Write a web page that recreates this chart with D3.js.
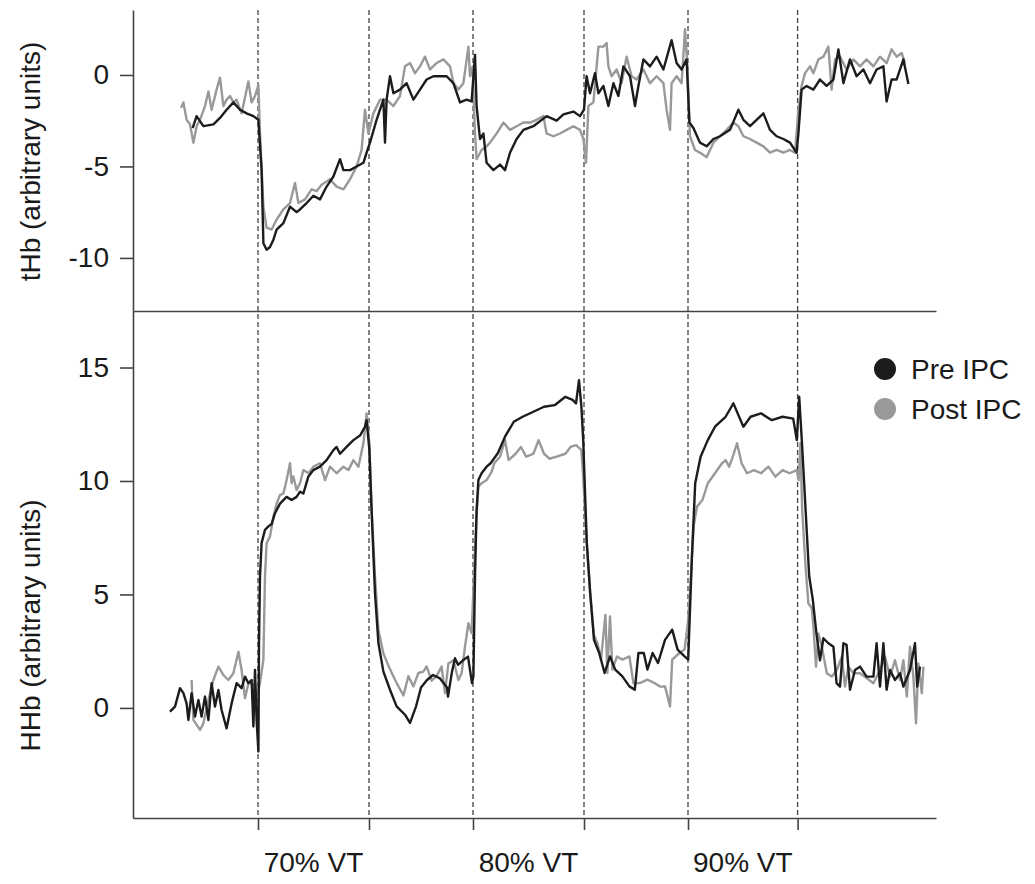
<!DOCTYPE html>
<html>
<head>
<meta charset="utf-8">
<script src="https://cdn.jsdelivr.net/npm/d3@7"></script>
<style>
  body { margin: 0; background: #fff; }
  svg { display: block; font-family: "Liberation Sans", Arial, sans-serif; }
</style>
</head>
<body>
<div id="chart"></div>
<script>
// time (min) of each workload change
const eventTimes = [6.25, 11.8, 17.0, 22.55, 27.75, 33.23];
const stageLabels = ["70% VT", "80% VT", "90% VT"];
const tHbTicks = [-10, -5, 0];
const hhbTicks = [0, 5, 10, 15];
const seriesNames = ["Pre IPC", "Post IPC"];

// tHb traces [time, value]
const tHbPre = [
  [2.98,-2.9],[3.18,-2.25],[3.52,-2.8],[4.02,-2.7],[4.35,-2.35],[4.68,-1.9],[5.02,-1.5],[5.35,-1.9],[5.68,-2.1],[6.02,-2.25],
  [6.27,-2.45],[6.43,-5.2],[6.52,-9.2],[6.68,-9.55],[6.85,-9.4],[7.02,-9.0],[7.18,-8.45],[7.52,-8.1],[7.85,-7.2],[8.18,-7.5],
  [8.35,-7.35],[8.68,-7.0],[9.02,-6.6],[9.35,-6.8],[9.68,-6.1],[10.02,-5.55],[10.35,-4.6],[10.52,-5.2],[10.85,-5.2],[11.18,-5.0],
  [11.52,-4.8],[11.68,-4.25],[11.85,-3.7],[12.18,-2.45],[12.52,-1.35],[12.6,-3.7],[12.68,-1.35],[12.85,-0.07],[13.02,-1.0],[13.35,-0.8],
  [13.68,-0.45],[14.02,-1.35],[14.35,-0.8],[14.68,-0.25],[15.02,-0.07],[15.35,-0.07],[15.68,-0.07],[16.02,-0.45],[16.35,-1.5],[16.68,-1.35],
  [16.93,-1.45],[17.1,1.1],[17.18,-1.7],[17.35,-3.5],[17.52,-3.2],[17.68,-4.8],[18.02,-5.2],[18.35,-4.9],[18.6,-5.2],[18.85,-4.25],
  [19.18,-3.5],[19.52,-3.0],[20.02,-2.8],[20.68,-2.25],[21.18,-2.5],[21.52,-2.15],[22.02,-2.0],[22.35,-2.25],[22.55,-1.9],[22.68,-0.07],
  [22.85,-1.0],[23.1,0.1],[23.27,-1.0],[23.52,-0.6],[23.77,-1.7],[24.02,-0.45],[24.27,-1.15],[24.52,0.47],[24.85,-0.07],[25.1,-1.7],
  [25.27,-0.6],[25.52,0.85],[25.85,0.47],[26.18,1.0],[26.52,0.3],[26.93,1.9],[27.18,0.65],[27.43,0.3],[27.68,0.85],[27.82,-2.6],
  [28.02,-2.9],[28.35,-3.7],[28.68,-3.9],[29.02,-3.5],[29.35,-3.35],[29.85,-3.0],[30.27,-1.9],[30.52,-2.45],[30.85,-2.8],[31.18,-2.45],
  [31.52,-2.1],[31.85,-3.0],[32.18,-3.35],[32.52,-3.5],[32.85,-3.7],[33.18,-4.25],[33.27,-3.2],[33.43,-0.8],[33.68,-0.6],[34.02,-0.8],
  [34.35,-0.25],[34.68,-0.6],[35.02,-0.25],[35.27,1.4],[35.52,-0.45],[35.85,0.85],[36.18,-0.07],[36.52,0.3],[36.85,-0.45],[37.18,0.3],
  [37.52,0.47],[37.68,-1.45],[37.93,-0.25],[38.18,-0.25],[38.52,0.85],[38.77,-0.5]
];
const tHbPost = [
  [2.4,-1.8],[2.52,-1.5],[2.68,-2.45],[2.85,-2.7],[3.02,-3.7],[3.18,-2.8],[3.35,-2.45],[3.6,-1.7],[3.77,-0.9],[3.93,-1.9],
  [4.18,-0.8],[4.35,-0.15],[4.52,-1.7],[4.68,-1.35],[4.85,-1.15],[5.02,-1.5],[5.18,-1.35],[5.43,-2.1],[5.77,-0.35],[5.93,-1.5],
  [6.1,-1.15],[6.27,-0.55],[6.35,-3.2],[6.52,-7.2],[6.68,-8.35],[6.93,-8.45],[7.18,-7.9],[7.52,-7.35],[7.85,-7.0],[8.1,-5.9],
  [8.27,-7.0],[8.6,-6.8],[8.93,-6.25],[9.18,-6.35],[9.43,-6.0],[9.85,-5.7],[10.18,-6.1],[10.52,-6.25],[10.85,-5.7],[11.18,-5.0],
  [11.43,-4.1],[11.6,-1.9],[11.77,-3.2],[12.02,-2.1],[12.35,-1.35],[12.68,-1.35],[13.02,-1.7],[13.35,-1.15],[13.6,0.47],[13.85,0.65],
  [14.1,0.1],[14.35,0.47],[14.6,1.0],[14.85,0.3],[15.18,0.65],[15.52,0.85],[15.85,0.47],[16.02,-0.45],[16.27,-0.8],[16.52,-0.45],
  [16.77,1.55],[16.85,-0.07],[16.98,0.47],[17.1,-3.2],[17.18,-4.6],[17.43,-4.1],[17.68,-3.9],[17.85,-3.7],[18.18,-3.2],[18.52,-2.6],
  [18.85,-3.0],[19.18,-2.8],[19.52,-2.6],[19.85,-2.6],[20.18,-2.45],[20.52,-2.25],[20.68,-3.2],[21.02,-3.35],[21.35,-3.2],[21.68,-3.0],
  [22.02,-2.8],[22.35,-3.0],[22.52,-3.5],[22.65,-4.8],[22.77,-1.7],[23.02,-1.5],[23.27,1.55],[23.52,1.55],[23.68,1.75],[23.77,0.47],
  [23.93,-0.07],[24.18,0.3],[24.43,-0.45],[24.68,1.0],[24.93,-0.07],[25.18,-0.25],[25.52,0.3],[25.85,-0.45],[26.18,-0.07],[26.52,-0.45],
  [26.68,-1.9],[26.85,-3.0],[26.93,-0.45],[27.18,-0.07],[27.43,-0.45],[27.6,2.5],[27.72,0.47],[27.85,-3.35],[28.1,-4.1],[28.43,-4.3],
  [28.68,-4.5],[29.02,-3.7],[29.35,-3.35],[29.68,-3.0],[30.02,-2.6],[30.27,-2.8],[30.52,-3.35],[30.85,-3.5],[31.18,-3.7],[31.52,-3.9],
  [31.85,-4.25],[32.18,-4.1],[32.52,-4.25],[32.85,-4.1],[33.1,-4.25],[33.27,-1.9],[33.43,-0.6],[33.6,0.1],[33.85,0.47],[34.02,0.1],
  [34.27,0.85],[34.52,1.0],[34.77,1.55],[34.93,-0.8],[35.1,0.85],[35.35,1.0],[35.68,0.3],[36.02,0.85],[36.35,0.47],[36.68,0.85],
  [37.02,0.47],[37.35,1.0],[37.68,0.65],[37.93,1.4],[38.18,1.0],[38.43,1.2],[38.6,0.65]
];

// HHb traces [time, value]
const hhbPre = [
  [1.85,-0.16],[2.1,0.06],[2.35,0.87],[2.52,0.65],[2.68,0.2],[2.77,-0.53],[2.93,0.65],[3.1,-0.38],[3.27,0.35],[3.43,-0.38],
  [3.6,0.5],[3.77,-0.53],[3.93,1.09],[4.1,0.06],[4.27,0.79],[4.43,-0.09],[4.68,-0.9],[4.93,0.2],[5.18,1.09],[5.43,0.87],
  [5.6,1.38],[5.77,1.09],[5.93,1.23],[6.02,-0.82],[6.1,1.67],[6.18,-0.53],[6.27,-1.92],[6.3,2.86],[6.35,5.8],[6.43,7.26],
  [6.6,7.85],[6.77,8.0],[6.93,8.1],[7.1,8.58],[7.35,9.0],[7.68,9.3],[7.93,9.16],[8.18,9.3],[8.35,9.53],[8.52,9.45],
  [8.77,10.2],[9.02,10.48],[9.35,10.63],[9.68,10.92],[10.02,11.36],[10.18,11.5],[10.35,11.2],[10.68,11.5],[11.02,11.8],[11.35,12.0],
  [11.6,12.39],[11.68,12.68],[11.82,11.36],[11.93,8.72],[12.1,5.06],[12.27,2.86],[12.52,1.6],[12.85,0.8],[13.18,0.07],[13.6,-0.3],
  [13.85,-0.66],[14.15,0.06],[14.4,0.9],[14.7,1.23],[15.0,1.45],[15.35,1.3],[15.7,0.9],[15.75,0.5],[15.95,1.6],[16.1,2.19],
  [16.25,1.9],[16.5,2.1],[16.75,2.26],[16.95,1.09],[17.02,1.39],[17.1,5.8],[17.18,8.72],[17.27,10.04],[17.43,10.34],[17.68,10.63],
  [17.88,10.78],[18.24,11.22],[18.6,11.95],[19.04,12.61],[19.48,12.83],[20.02,13.05],[20.55,13.27],[21.08,13.34],[21.62,13.71],[21.98,13.57],
  [22.15,13.42],[22.3,14.44],[22.42,13.27],[22.51,11.8],[22.69,7.26],[22.86,5.06],[23.05,3.0],[23.31,2.42],[23.58,1.54],[23.85,2.27],
  [24.11,1.69],[24.47,1.39],[24.82,0.95],[25.09,0.8],[25.27,2.42],[25.54,2.42],[25.72,1.69],[25.98,2.42],[26.25,1.98],[26.6,3.0],
  [26.96,3.45],[27.23,2.57],[27.58,2.27],[27.76,2.13],[27.94,6.52],[28.11,9.9],[28.38,11.07],[28.74,11.8],[29.1,12.39],[29.63,12.83],
  [30.02,13.42],[30.52,12.39],[30.88,12.83],[31.4,12.98],[31.94,12.68],[32.48,12.83],[33.01,12.75],[33.19,11.8],[33.31,13.71],[33.45,11.65],
  [33.63,8.72],[33.81,5.8],[33.99,4.77],[34.17,3.3],[34.35,2.1],[34.52,3.07],[34.77,2.85],[35.02,2.7],[35.18,1.09],[35.35,0.94],
  [35.52,2.85],[35.68,2.78],[35.85,0.8],[36.1,1.67],[36.35,1.82],[36.68,1.38],[37.02,1.38],[37.18,2.85],[37.35,0.94],[37.52,2.85],
  [37.68,0.8],[37.85,1.67],[38.1,1.23],[38.35,1.53],[38.52,0.94],[38.85,1.67],[39.1,2.85],[39.21,0.94],[39.35,1.82]
];
const hhbPost = [
  [2.93,1.23],[3.02,-0.53],[3.35,-0.97],[3.52,-0.68],[3.77,0.35],[4.02,1.23],[4.27,1.82],[4.52,1.45],[4.77,1.23],[5.02,1.53],
  [5.27,2.48],[5.43,1.67],[5.6,0.43],[5.77,1.09],[5.93,1.09],[6.1,0.94],[6.18,0.5],[6.35,1.09],[6.52,2.13],[6.6,5.8],
  [6.68,7.26],[6.85,7.55],[7.02,8.43],[7.18,9.0],[7.35,9.38],[7.52,9.45],[7.68,10.04],[7.85,10.78],[7.93,9.9],[8.02,10.2],
  [8.18,9.6],[8.35,9.9],[8.52,10.48],[8.77,10.34],[9.02,10.63],[9.35,10.78],[9.6,10.04],[9.85,10.63],[10.18,10.34],[10.52,10.63],
  [10.77,10.48],[11.02,10.92],[11.27,10.63],[11.52,11.66],[11.68,12.98],[11.82,11.66],[11.93,8.72],[12.1,5.8],[12.27,3.45],[12.52,2.4],
  [12.85,1.7],[13.18,1.1],[13.52,0.55],[13.77,1.4],[14.02,0.95],[14.27,1.54],[14.52,1.6],[14.68,1.83],[14.93,1.2],[15.18,1.4],
  [15.43,1.82],[15.6,0.65],[15.77,1.96],[16.02,2.1],[16.27,1.23],[16.43,1.53],[16.6,2.7],[16.77,3.73],[16.93,3.3],[17.05,5.8],
  [17.15,8.0],[17.27,9.75],[17.43,9.9],[17.68,10.04],[17.93,10.4],[18.06,10.78],[18.35,11.07],[18.6,11.8],[18.78,10.92],[19.13,11.2],
  [19.4,11.5],[19.66,11.07],[20.02,11.2],[20.28,11.8],[20.55,11.2],[20.82,10.98],[21.18,11.07],[21.62,11.2],[21.88,11.5],[22.16,11.58],
  [22.42,11.36],[22.51,10.19],[22.69,7.26],[22.86,5.06],[23.05,3.2],[23.22,2.86],[23.4,2.13],[23.62,4.1],[23.72,1.54],[23.85,4.03],
  [23.97,1.69],[24.2,2.27],[24.47,2.13],[24.82,2.27],[25.02,1.09],[25.35,1.1],[25.72,1.25],[26.07,1.1],[26.35,0.94],[26.6,0.95],
  [26.85,0.06],[26.96,2.13],[27.32,2.42],[27.58,2.57],[27.76,3.89],[27.85,5.06],[28.03,8.0],[28.2,8.87],[28.47,9.16],[28.74,9.9],
  [29.1,10.34],[29.45,10.78],[29.63,10.92],[29.81,10.63],[29.99,11.07],[30.2,11.66],[30.43,10.78],[30.7,10.34],[31.05,10.48],[31.4,10.34],
  [31.77,10.63],[32.12,10.19],[32.48,10.48],[32.83,10.34],[33.19,10.48],[33.28,10.04],[33.37,11.66],[33.46,8.72],[33.63,6.2],[33.77,4.6],
  [33.94,4.4],[34.02,3.58],[34.15,1.82],[34.27,3.28],[34.44,2.7],[34.69,1.53],[34.94,1.38],[35.19,1.67],[35.44,2.26],[35.6,0.94],
  [35.77,1.82],[36.02,1.53],[36.35,1.53],[36.69,1.31],[37.02,1.09],[37.35,1.67],[37.6,2.26],[37.85,1.38],[38.1,2.1],[38.35,1.23],
  [38.52,2.1],[38.69,0.5],[38.85,2.7],[39.02,1.38],[39.15,-0.68],[39.27,1.96],[39.44,0.65],[39.52,1.82]
];

const W = 1035, H = 884;
const left = 133, right = 936;
const topY = 10, midY = 311, botY = 818;

const colors = ["#1c1c1c", "#999999"];
const textColor = "#1a1a1a";

const svg = d3.select("#chart").append("svg")
    .attr("width", W).attr("height", H);

const x = d3.scaleLinear().domain([0, 40.15]).range([left, right]);
const yTop = d3.scaleLinear().domain([-12.9, 3.55]).range([midY, topY]);
const yBot = d3.scaleLinear().domain([-4.85, 17.49]).range([botY, midY]);

// vertical dashed markers at workload changes
svg.append("g").selectAll("line")
    .data(eventTimes)
    .enter().append("line")
    .attr("x1", d => x(d)).attr("x2", d => x(d))
    .attr("y1", topY).attr("y2", botY)
    .attr("stroke", "#444").attr("stroke-width", 1.3)
    .attr("stroke-dasharray", "5,3");

// traces (post drawn first, pre on top)
function drawLines(y, pre, post) {
    const line = d3.line().x(d => x(d[0])).y(d => y(d[1]));
    [post, pre].forEach((s, i) => {
        svg.append("path")
            .datum(s)
            .attr("d", line)
            .attr("fill", "none")
            .attr("stroke", i === 0 ? colors[1] : colors[0])
            .attr("stroke-width", 2.4)
            .attr("stroke-linejoin", "round");
    });
}
drawLines(yTop, tHbPre, tHbPost);
drawLines(yBot, hhbPre, hhbPost);

// axes
function styleAxis(g) {
    g.selectAll("path, line").attr("stroke", "#444").attr("stroke-width", 1.6);
    g.selectAll("text").attr("fill", textColor).style("font-size", "28px")
        .style("font-family", "'Liberation Sans', Arial, sans-serif");
}

svg.append("g")
    .attr("transform", `translate(${left},0)`)
    .call(d3.axisLeft(yTop).tickValues(tHbTicks).tickFormat(d => String(d))
        .tickSize(13).tickPadding(11).tickSizeOuter(0))
    .call(styleAxis);

svg.append("g")
    .attr("transform", `translate(${left},0)`)
    .call(d3.axisLeft(yBot).tickValues(hhbTicks).tickFormat(d => String(d))
        .tickSize(13).tickPadding(11).tickSizeOuter(0))
    .call(styleAxis);

// panel separator
svg.append("g")
    .attr("transform", `translate(0,${midY})`)
    .call(d3.axisBottom(x).tickValues([]).tickSizeOuter(0))
    .call(styleAxis);

// bottom time axis, ticks at the workload changes
svg.append("g")
    .attr("transform", `translate(0,${botY})`)
    .call(d3.axisBottom(x).tickValues(eventTimes).tickFormat("").tickSize(12).tickSizeOuter(0))
    .call(styleAxis);

// stage labels centred between markers
svg.append("g").selectAll("text")
    .data(stageLabels)
    .enter().append("text")
    .attr("x", (d, i) => x((eventTimes[2 * i] + eventTimes[2 * i + 1]) / 2))
    .attr("y", 872)
    .attr("text-anchor", "middle")
    .attr("fill", textColor)
    .style("font-size", "28px")
    .text(d => d);

// y-axis titles
svg.append("text")
    .attr("transform", `translate(40,${(yTop.range()[0] + yTop.range()[1]) / 2 + 1}) rotate(-90)`)
    .attr("text-anchor", "middle").attr("fill", textColor).style("font-size", "28px")
    .text("tHb (arbitrary units)");

svg.append("text")
    .attr("transform", `translate(40,${(yBot(0) + 311 + 240) / 2 - 4}) rotate(-90)`)
    .attr("text-anchor", "middle").attr("fill", textColor).style("font-size", "28px")
    .text("HHb (arbitrary units)");

// legend
const legend = svg.append("g").attr("transform", "translate(885,369)");
seriesNames.forEach((name, i) => {
    legend.append("circle").attr("cx", 0).attr("cy", i * 40).attr("r", 11).attr("fill", colors[i]);
    legend.append("text").attr("x", 26).attr("y", i * 40 + 10)
        .attr("fill", textColor).style("font-size", "28px").text(name);
});
</script>
</body>
</html>
